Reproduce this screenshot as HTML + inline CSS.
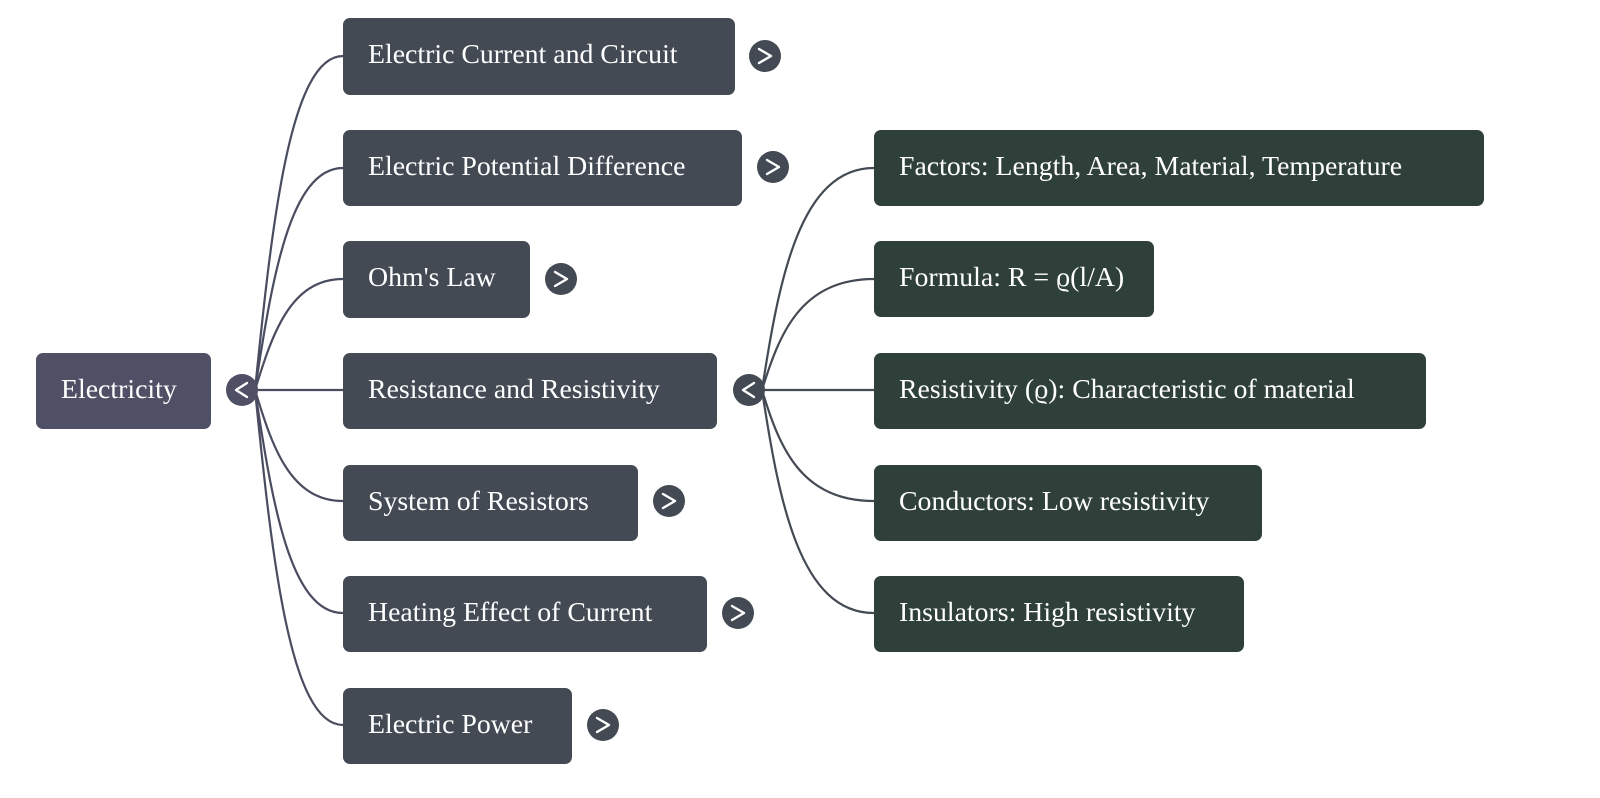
<!DOCTYPE html>
<html><head><meta charset="utf-8"><style>
html,body{margin:0;padding:0;background:#fff;width:1600px;height:798px;overflow:hidden}
text{font-family:"Liberation Serif",serif;font-size:27.8px;fill:#fff}
</style></head><body>
<svg width="1600" height="798" xmlns="http://www.w3.org/2000/svg">
<g fill="none" stroke="#4a4d60" stroke-width="2.2">
<path d="M255 390 C272 223,290 56,343 56"/>
<path d="M255 390 C272 279,290 168,343 168"/>
<path d="M255 390 C272 335,290 279,343 279"/>
<path d="M255 390 L343 390"/>
<path d="M255 390 C272 446,290 501,343 501"/>
<path d="M255 390 C272 502,290 613,343 613"/>
<path d="M255 390 C272 558,290 725,343 725"/>
</g>
<g fill="none" stroke="#444a54" stroke-width="2.2">
<path d="M762 390 C779 279,800 168,874 168"/>
<path d="M762 390 C779 335,800 279,874 279"/>
<path d="M762 390 L874 390"/>
<path d="M762 390 C779 446,800 501,874 501"/>
<path d="M762 390 C779 502,800 613,874 613"/>
</g>
<rect x="36" y="353" width="175" height="76" rx="7" fill="#4f4f66"/>
<text x="61" y="398">Electricity</text>
<g fill="#434a54">
<rect x="343" y="18" width="392" height="77" rx="7"/>
<rect x="343" y="130" width="399" height="76" rx="7"/>
<rect x="343" y="241" width="187" height="77" rx="7"/>
<rect x="343" y="353" width="374" height="76" rx="7"/>
<rect x="343" y="465" width="295" height="76" rx="7"/>
<rect x="343" y="576" width="364" height="76" rx="7"/>
<rect x="343" y="688" width="229" height="76" rx="7"/>
</g>
<text x="368" y="63">Electric Current and Circuit</text>
<text x="368" y="175">Electric Potential Difference</text>
<text x="368" y="286">Ohm's Law</text>
<text x="368" y="398">Resistance and Resistivity</text>
<text x="368" y="510">System of Resistors</text>
<text x="368" y="621">Heating Effect of Current</text>
<text x="368" y="733">Electric Power</text>
<g fill="#2f3f3a">
<rect x="874" y="130" width="610" height="76" rx="7"/>
<rect x="874" y="241" width="280" height="76" rx="7"/>
<rect x="874" y="353" width="552" height="76" rx="7"/>
<rect x="874" y="465" width="388" height="76" rx="7"/>
<rect x="874" y="576" width="370" height="76" rx="7"/>
</g>
<text x="899" y="175">Factors: Length, Area, Material, Temperature</text>
<text x="899" y="286">Formula: R = ϱ(l/A)</text>
<text x="899" y="398">Resistivity (ϱ): Characteristic of material</text>
<text x="899" y="510">Conductors: Low resistivity</text>
<text x="899" y="621">Insulators: High resistivity</text>
<g fill="#4f4f66"><circle cx="242" cy="390" r="16"/></g>
<g fill="#434a54">
<circle cx="749" cy="390" r="16"/>
<circle cx="765" cy="56" r="16"/>
<circle cx="773" cy="167" r="16"/>
<circle cx="561" cy="279" r="16"/>
<circle cx="669" cy="501" r="16"/>
<circle cx="738" cy="613" r="16"/>
<circle cx="603" cy="725" r="16"/>
</g>
<g fill="none" stroke="#fff" stroke-width="2.4" stroke-linecap="round" stroke-linejoin="round">
<path d="M247 383 L236 390 L247 397"/>
<path d="M754 383 L743 390 L754 397"/>
<path d="M759 49 L771 56 L759 63"/>
<path d="M767 160 L779 167 L767 174"/>
<path d="M555 272 L567 279 L555 286"/>
<path d="M663 494 L675 501 L663 508"/>
<path d="M732 606 L744 613 L732 620"/>
<path d="M597 718 L609 725 L597 732"/>
</g>
</svg>
</body></html>
